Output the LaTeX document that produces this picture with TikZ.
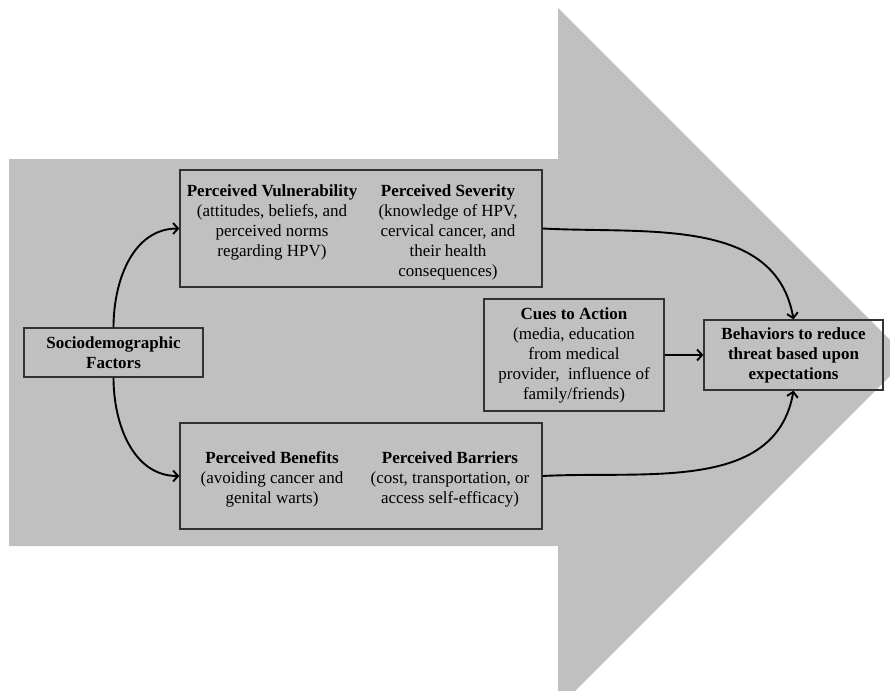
\documentclass[tikz,border=0pt]{standalone}
\usepackage{fontspec}
\setmainfont{Liberation Serif}
\usetikzlibrary{arrows.meta,positioning}
\definecolor{arrowgray}{HTML}{C0C0C0}
\definecolor{edgegray}{HTML}{333333}

\begin{document}
\begin{tikzpicture}[
  x=1pt,y=-1pt,
  >={Straight Barb[length=5pt,width=11pt]},
  box/.style={draw=edgegray,line width=1.3pt,inner sep=0pt},
  textcol/.style={align=center,inner sep=0pt,anchor=north},
  link/.style={->,line width=1.9pt},
  every node/.style={font=\fontsize{17}{20}\selectfont}
]
\useasboundingbox (0,0) rectangle (890,690);
% big background arrow
\begin{scope}
  \clip (0,0) rectangle (890,690);
  \fill[arrowgray] (9,159) -- (558,159) -- (558,8) -- (908,358)
    -- (558,708) -- (558,546) -- (9,546) -- cycle;
\end{scope}

\node[box,align=center,minimum width=179pt,minimum height=49pt] (socio) at (113.5,352.5)
  {\textbf{Sociodemographic}\\\textbf{Factors}};

\node[box,minimum width=362pt,minimum height=117pt] (vulsev) at (361,228.5) {};
\node[textcol] (vul) at (272,185)
  {\textbf{Perceived Vulnerability}\\(attitudes, beliefs, and\\perceived norms\\regarding HPV)};
\node[textcol] (sev) at (448,185)
  {\textbf{Perceived Severity}\\(knowledge of HPV,\\cervical cancer, and\\their health\\consequences)};

\node[box,minimum width=362pt,minimum height=106pt] (benbar) at (361,476) {};
\node[textcol] (ben) at (272,451)
  {\textbf{Perceived Benefits}\\(avoiding cancer and\\genital warts)};
\node[textcol] (bar) at (450,451)
  {\textbf{Perceived Barriers}\\(cost, transportation, or\\access self-efficacy)};

\node[box,align=center,minimum width=180pt,minimum height=112pt] (cues) at (574,355)
  {\textbf{Cues to Action}\\(media, education\\from medical\\provider,\ \ influence of\\family/friends)};

\node[box,align=center,minimum width=179pt,minimum height=70pt] (behav) at (793.5,355)
  {\textbf{Behaviors to reduce}\\\textbf{threat based upon}\\\textbf{expectations}};

\draw[link] (socio.north) to[out=90,in=180] (vulsev.west);
\draw[link] (socio.south) to[out=-90,in=180] (benbar.west);
\draw[link] (vulsev.east) to[out=-3,in=100] (behav.north);
\draw[link] (benbar.east) to[out=3,in=-100] (behav.south);
\draw[link] (cues) -- (behav);
\end{tikzpicture}
\end{document}
